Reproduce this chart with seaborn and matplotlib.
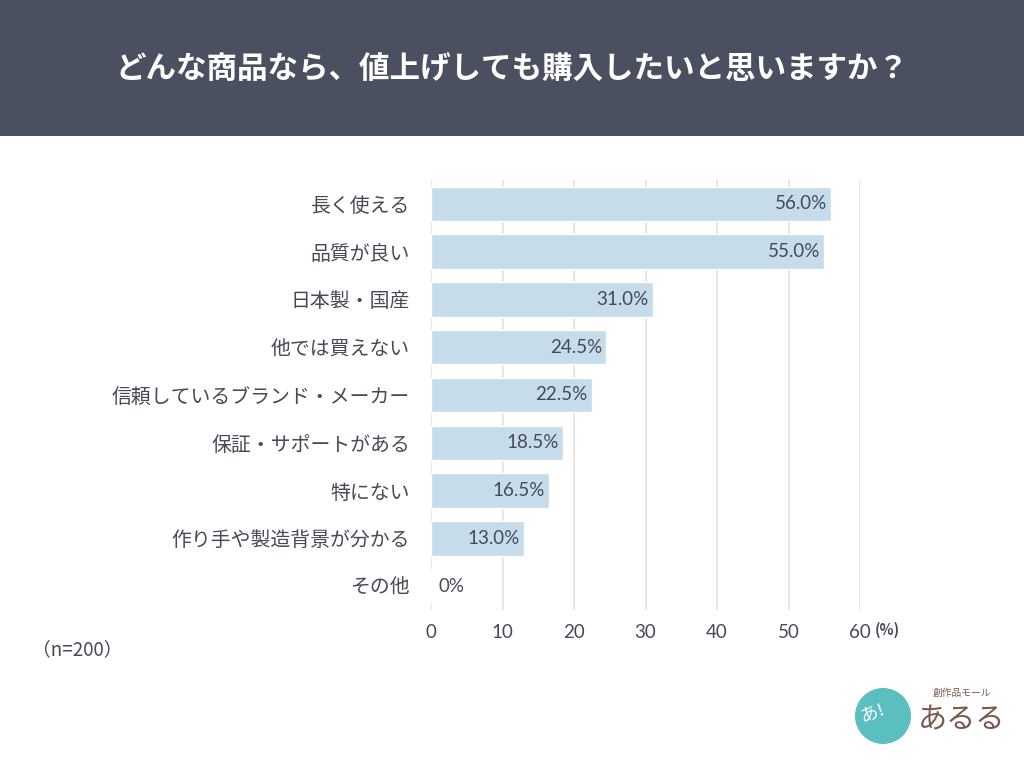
import matplotlib
matplotlib.use("Agg")
import matplotlib.pyplot as plt
import matplotlib.patches as mpatches
import matplotlib.transforms as mtransforms
import seaborn as sns
import pandas as pd

categories = ["長く使える", "品質が良い", "日本製・国産", "他では買えない",
              "信頼しているブランド・メーカー", "保証・サポートがある", "特にない",
              "作り手や製造背景が分かる", "その他"]
values = [56.0, 55.0, 31.0, 24.5, 22.5, 18.5, 16.5, 13.0, 0.0]
value_labels = ["56.0%", "55.0%", "31.0%", "24.5%", "22.5%", "18.5%", "16.5%", "13.0%", "0%"]
xticks = [0, 10, 20, 30, 40, 50, 60]
title = "どんな商品なら、値上げしても購入したいと思いますか？"
note = "（n=200）"

sns.set_theme(style="white")
plt.rcParams['font.family'] = ['Noto Sans CJK JP', 'DejaVu Sans']

TEXT = "#454a57"
BAR = "#c6dcea"
GRID = "#e2e2e2"

df = pd.DataFrame({"cat": categories, "val": values})

fig = plt.figure(figsize=(10.24, 7.68), dpi=100)
fig.patch.set_facecolor("white")

# header band
fig.patches.append(mpatches.Rectangle((0, 1 - 136 / 768), 1, 136 / 768, transform=fig.transFigure,
                                      facecolor="#4a5060", edgecolor="none", zorder=0))
fig.text(0.5, 1 - 70 / 768, title, ha="center", va="center", color="white",
         fontsize=22, fontweight="bold")

ax = fig.add_axes([431 / 1024, 1 - 610 / 768, (860 - 431) / 1024, 430 / 768])
sns.barplot(data=df, x="val", y="cat", orient="h", color=BAR, width=0.72,
            saturation=1, ax=ax, zorder=2)
ax.set_xlim(0, 60)
ax.set_ylim(8.5, -0.5)
ax.set_xticks(xticks)
ax.set_xticklabels([str(t) for t in xticks], family=['Lato', 'DejaVu Sans'])
for t in xticks:
    ax.axvline(t, color=GRID, lw=1.2, zorder=1)
for s in ax.spines.values():
    s.set_visible(False)
ax.set_xlabel("")
ax.set_ylabel("")
ax.tick_params(axis="x", length=0, pad=10, labelsize=13.5, labelcolor=TEXT)
ax.tick_params(axis="y", length=0, pad=15, labelsize=14.3, labelcolor=TEXT)

for i, (v, lab) in enumerate(zip(values, value_labels)):
    if v > 3:
        ax.text(v - 0.6, i, lab, ha="right", va="center", fontsize=13.5, color=TEXT,
                family=['Lato', 'DejaVu Sans'], zorder=3)
    else:
        ax.text(1.0, i, lab, ha="left", va="center", fontsize=13.5, color=TEXT,
                family=['Lato', 'DejaVu Sans'], zorder=3)

trans = mtransforms.blended_transform_factory(ax.transData, ax.transAxes)
ax.text(62.0, -0.047, "(%)", transform=trans, ha="left", va="center", fontsize=10.5,
        color=TEXT, fontweight="bold")

fig.text(32 / 1024, 1 - 650 / 768, note, ha="left", va="center", fontsize=13.5, color=TEXT)

# logo
fig.patches.append(mpatches.Ellipse((883 / 1024, 1 - 716 / 768), 56 / 1024, 56 / 768,
                                    transform=fig.transFigure, facecolor="#5bbfc0",
                                    edgecolor="none", zorder=1))
fig.text(872 / 1024, 1 - 712 / 768, "あ!", ha="center", va="center", fontsize=13,
         color="white", rotation=20)
fig.text(962 / 1024, 1 - 693 / 768, "創作品モール", ha="center", va="center", fontsize=7,
         color="#7a5a50")
fig.text(962 / 1024, 1 - 720 / 768, "あるる", ha="center", va="center", fontsize=21,
         color="#7a5a50")

fig.savefig("out.png", dpi=100, facecolor="white")
